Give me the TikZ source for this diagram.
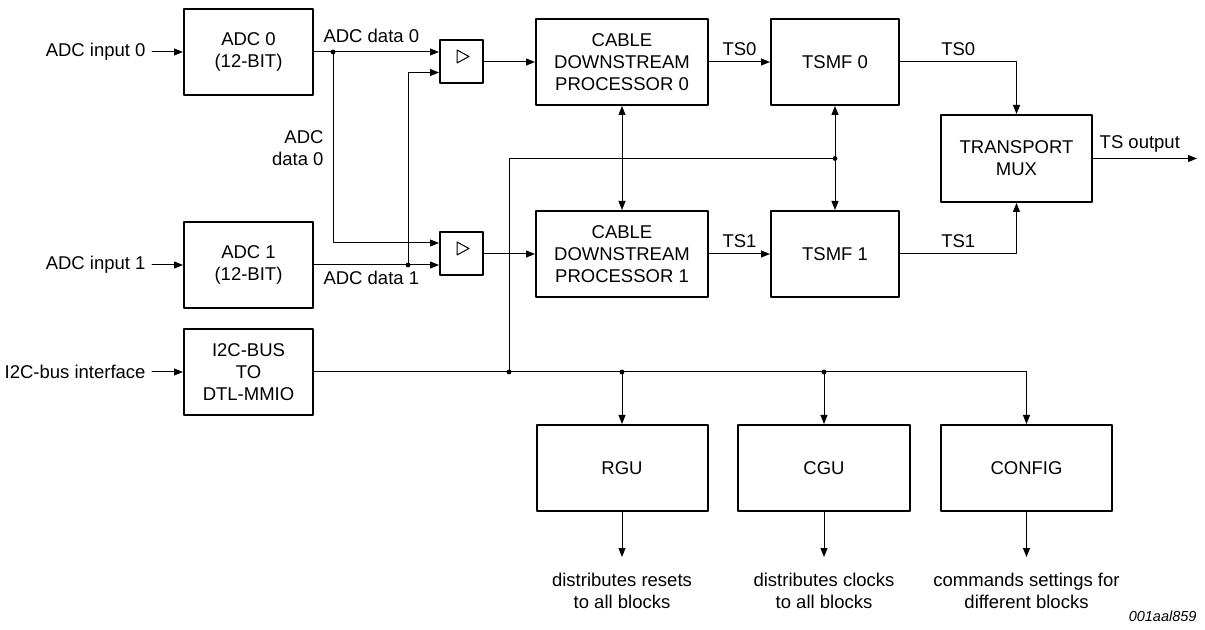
\documentclass[tikz,border=0pt]{standalone}
\usepackage{fontspec}
\setmainfont{Liberation Sans}
\usetikzlibrary{arrows.meta,calc}

\tikzset{
  blk/.style={draw, line width=1pt, align=center, inner sep=0pt, minimum height=43pt},
  buf/.style={draw, line width=1pt, minimum width=21.5pt, minimum height=21.5pt, inner sep=0pt},
  lbl/.style={inner sep=3pt, align=center},
  note/.style={inner sep=3pt, inner ysep=8pt, align=center}
}

\begin{document}
\begin{tikzpicture}[line cap=round,line join=round,>={Triangle[length=4.5pt,width=3.5pt]},
  x=0.5pt,y=-0.5pt,line width=0.5pt,font=\fontsize{9.25}{11}\selectfont]
		\useasboundingbox (0,0) rectangle (1205,630);
		% ADC blocks and bus bridge
		\node[blk, minimum width=64.5pt] (adc0) at (248.5,52) {ADC 0\\(12-BIT)};
		\node[blk, minimum width=64.5pt] (adc1) at (248.5,265) {ADC 1\\(12-BIT)};
		\node[blk, minimum width=64.5pt] (i2c) at (248.5,372) {I2C-BUS\\TO\\DTL-MMIO};
		\node[lbl, anchor=east] (in0) at (152,52) {ADC input 0};
		\node[lbl, anchor=east] (in1) at (152,265) {ADC input 1};
		\node[lbl, anchor=east] (ini2c) at (152,372) {I2C-bus interface};
		\draw[->] (in0) -- (adc0);
		\draw[->] (in1) -- (adc1);
		\draw[->] (ini2c) -- (i2c);
		% buffers
		\node[buf] (bufA) at (461.5,62) {};
		\node[buf] (bufB) at (461.5,254) {};
		\draw ([shift={(-4.5,-12)}]bufA.center) -- ++(12,6.5) -- ++(-12,6.5) -- cycle;
		\draw ([shift={(-4.5,-12)}]bufB.center) -- ++(12,6.5) -- ++(-12,6.5) -- cycle;
		% ADC data lines
		\coordinate (d0) at (333,52);
		\coordinate (d1) at (408,265);
		\draw[->] (adc0) -- (adc0 -| bufA.west);
		\draw[->] (adc1) -- (adc1 -| bufB.west);
		\draw[->] (d0) |- ($(bufB.west)+(0,-11)$);
		\draw[->] (d1) |- ($(bufA.west)+(0,10.5)$);
		\fill (d0) circle (1.2pt);
		\fill (d1) circle (1.2pt);
		\node[lbl, anchor=south west] (lbl0) at (317,49) {ADC data 0};
		\node[lbl, anchor=north west] (lbl1) at (317,265) {ADC data 1};
		\node[lbl, anchor=east, align=right] (lblm) at (330,148) {ADC\\data 0};
		% processors
		\node[blk, minimum width=86pt] (cdp0) at (622,62) {CABLE\\DOWNSTREAM\\PROCESSOR 0};
		\node[blk, minimum width=86pt] (cdp1) at (622,254) {CABLE\\DOWNSTREAM\\PROCESSOR 1};
		\node[blk, minimum width=64pt] (tsmf0) at (835,62) {TSMF 0};
		\node[blk, minimum width=64pt] (tsmf1) at (835,254) {TSMF 1};
		\node[blk, minimum width=75.5pt, minimum height=43.5pt] (mux) at (1016.5,158.5) {TRANSPORT\\MUX};
		\coordinate (tsout) at (1197,158.5);
		\draw[->] (bufA) -- (cdp0);
		\draw[->] (bufB) -- (cdp1);
		\draw[->] (cdp0) -- node[lbl, above]{TS0} (tsmf0);
		\draw[->] (cdp1) -- node[lbl, above]{TS1} (tsmf1);
		\draw[->] (tsmf0) -| node[lbl, pos=0.25, above]{TS0} (mux);
		\draw[->] (tsmf1) -| node[lbl, pos=0.25, above]{TS1} (mux);
		\draw[->] (mux) -- node[lbl, pos=0.45, above]{TS output} (tsout);
		\draw[<->] (cdp0) -- (cdp1);
		\draw[<->] (tsmf0) -- (tsmf1);
		% control units
		\node[blk, minimum width=85.5pt] (rgu) at (622,468) {RGU};
		\node[blk, minimum width=86pt] (cgu) at (824,468) {CGU};
		\node[blk, minimum width=85.5pt] (cfg) at (1026.5,468) {CONFIG};
		\node[note, anchor=north] (rgutxt) at (622,557) {distributes resets\\to all blocks};
		\node[note, anchor=north] (cgutxt) at (824,557) {distributes clocks\\to all blocks};
		\node[note, anchor=north] (cfgtxt) at (1026.5,557) {commands settings for\\different blocks};
		\draw[->] (rgu) -- (rgutxt);
		\draw[->] (cgu) -- (cgutxt);
		\draw[->] (cfg) -- (cfgtxt);
		% MMIO bus
		\coordinate (jb) at (509,372);
		\coordinate (jr) at (i2c -| rgu);
		\coordinate (jc) at (i2c -| cgu);
		\coordinate (jt) at (tsmf0 |- mux);
		\draw[->] (i2c) -| (cfg);
		\draw[->] (jr) -- (rgu);
		\draw[->] (jc) -- (cgu);
		\draw (jb) |- (jt);
		\foreach \j in {jb,jr,jc,jt} \fill (\j) circle (1.2pt);
		\node[anchor=south east, inner sep=0pt, font=\fontsize{7.25}{8}\selectfont\itshape] (ref) at (1197,622) {001aal859};
		\end{tikzpicture}
\end{document}
